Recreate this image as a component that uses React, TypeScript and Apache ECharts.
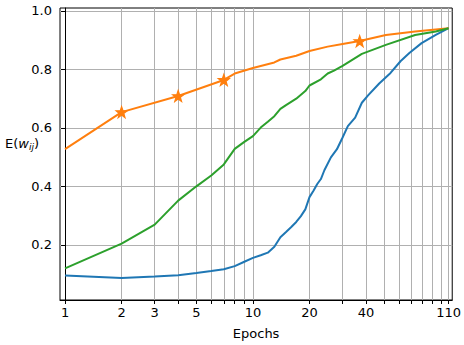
import React, { useEffect, useRef } from "react";
import * as echarts from "echarts";

// Data (epoch, E(w_ij))
const blueEpochs = [1, 2, 3, 4, 5, 6, 7, 8, 9, 10, 11, 12, 13, 14, 15, 16, 17, 18, 19, 20, 21, 22, 23, 24, 26, 28, 30, 32, 35, 38, 41, 47, 54, 61, 68, 79, 94, 110];
const blueValues = [0.095, 0.086, 0.091, 0.096, 0.103, 0.11, 0.116, 0.127, 0.142, 0.155, 0.164, 0.173, 0.193, 0.226, 0.244, 0.261, 0.278, 0.298, 0.321, 0.363, 0.385, 0.408, 0.425, 0.455, 0.499, 0.527, 0.567, 0.606, 0.635, 0.686, 0.711, 0.752, 0.788, 0.828, 0.856, 0.89, 0.918, 0.941];

const orangeEpochs = [1, 2, 4, 7, 8, 10, 13, 14, 17, 20, 25, 30, 37, 51, 73, 110];
const orangeValues = [0.527, 0.654, 0.709, 0.764, 0.786, 0.805, 0.824, 0.834, 0.847, 0.863, 0.878, 0.887, 0.897, 0.918, 0.93, 0.941];
const orangeMarkerEpochs = [2, 4, 7, 37];

const greenEpochs = [1, 2, 3, 4, 5, 6, 7, 8, 9, 10, 11, 12, 13, 14, 15, 17, 19, 20, 23, 25, 27, 30, 38, 51, 73, 94, 110];
const greenValues = [0.119, 0.204, 0.269, 0.351, 0.4, 0.437, 0.475, 0.528, 0.552, 0.572, 0.601, 0.621, 0.64, 0.665, 0.678, 0.7, 0.726, 0.745, 0.766, 0.786, 0.796, 0.812, 0.853, 0.884, 0.918, 0.93, 0.941];

const xLabelEpochs = [1, 2, 3, 5, 10, 20, 40, 110];
const xGridEpochs = [1, 2, 3, 4, 5, 6, 7, 8, 9, 10, 20, 30, 40, 50, 60, 70, 80, 90, 100, 110];
const yTickValues = [0.2, 0.4, 0.6, 0.8, 1.0];

const X_MIN = 0.94;
const X_MAX = 115;
const Y_MIN = 0.011;
const Y_MAX = 1.0102;

const lg = (v: number) => Math.log10(v);
const toPairs = (xs: number[], ys: number[]) => xs.map((x, i) => [lg(x), ys[i]]);

const STAR =
  "path://M0,-10L2.35,-3.24L9.51,-3.09L3.8,1.24L5.88,8.09L0,3.9L-5.88,8.09L-3.8,1.24L-9.51,-3.09L-2.35,-3.24Z";

const FONT = "DejaVu Sans";

export default function App() {
  const ref = useRef<HTMLDivElement>(null);

  useEffect(() => {
    document.body.style.margin = "0";
    if (!ref.current) return;
    const chart = echarts.init(ref.current, null, { renderer: "svg" });

    const markerData = orangeMarkerEpochs.map((e) => {
      const i = orangeEpochs.indexOf(e);
      return [lg(e), orangeValues[i]];
    });

    chart.setOption({
      animation: false,
      backgroundColor: "#fff",
      grid: {
        left: 60,
        right: 10,
        top: 8,
        bottom: 43,
        show: true,
        borderColor: "#000",
        borderWidth: 1,
        backgroundColor: "transparent",
      },
      xAxis: {
        type: "value",
        min: lg(X_MIN),
        max: lg(X_MAX),
        axisLine: { show: true, onZero: false, lineStyle: { color: "#000", width: 1 } },
        axisTick: {
          show: true,
          length: 4,
          customValues: xGridEpochs.map(lg),
          lineStyle: { color: "#000", width: 1 },
        },
        axisLabel: {
          customValues: xLabelEpochs.map(lg),
          formatter: (v: number) => String(Math.round(Math.pow(10, v))),
          color: "#000",
          fontSize: 13,
          fontFamily: FONT,
          margin: 6,
        },
        splitLine: { show: true, lineStyle: { color: "#b0b0b0", width: 1 } },
        name: "Epochs",
        nameLocation: "middle",
        nameGap: 27,
        nameTextStyle: { color: "#000", fontSize: 13, fontFamily: FONT },
      },
      yAxis: {
        type: "value",
        min: Y_MIN,
        max: Y_MAX,
        axisLine: { show: true, lineStyle: { color: "#000", width: 1 } },
        axisTick: {
          show: true,
          length: 4,
          customValues: yTickValues,
          lineStyle: { color: "#000", width: 1 },
        },
        axisLabel: {
          customValues: yTickValues,
          formatter: (v: number) => v.toFixed(1),
          color: "#000",
          fontSize: 13,
          fontFamily: FONT,
          margin: 8,
        },
        splitLine: { show: true, lineStyle: { color: "#b0b0b0", width: 1 } },
      },
      graphic: [
        {
          type: "text",
          x: 5,
          y: 143,
          style: {
            text: "{n|E(}{i|w}{s|ij}{n|)}",
            verticalAlign: "middle",
            align: "left",
            fill: "#000",
            rich: {
              n: { fontSize: 13, fontFamily: FONT, fill: "#000" },
              i: { fontSize: 13, fontFamily: FONT, fontStyle: "italic", fill: "#000" },
              s: { fontSize: 9, fontFamily: FONT, fontStyle: "italic", fill: "#000", padding: [7, 0, 0, 0] },
            },
          },
        },
      ],
      series: [
        {
          type: "line",
          data: toPairs(blueEpochs, blueValues),
          showSymbol: false,
          symbol: "none",
          lineStyle: { color: "#1f77b4", width: 2 },
          itemStyle: { color: "#1f77b4" },
          z: 2,
        },
        {
          type: "line",
          data: toPairs(orangeEpochs, orangeValues),
          showSymbol: false,
          symbol: "none",
          lineStyle: { color: "#ff7f0e", width: 2 },
          itemStyle: { color: "#ff7f0e" },
          z: 3,
        },
        {
          type: "scatter",
          data: markerData,
          symbol: STAR,
          symbolSize: 11,
          itemStyle: { color: "#ff7f0e", opacity: 1, borderColor: "#ff7f0e", borderWidth: 1.2 },
          z: 4,
        },
        {
          type: "line",
          data: toPairs(greenEpochs, greenValues),
          showSymbol: false,
          symbol: "none",
          lineStyle: { color: "#2ca02c", width: 2 },
          itemStyle: { color: "#2ca02c" },
          z: 5,
        },
      ],
    });

    return () => chart.dispose();
  }, []);

  return <div ref={ref} style={{ width: 464, height: 345 }} />;
}
